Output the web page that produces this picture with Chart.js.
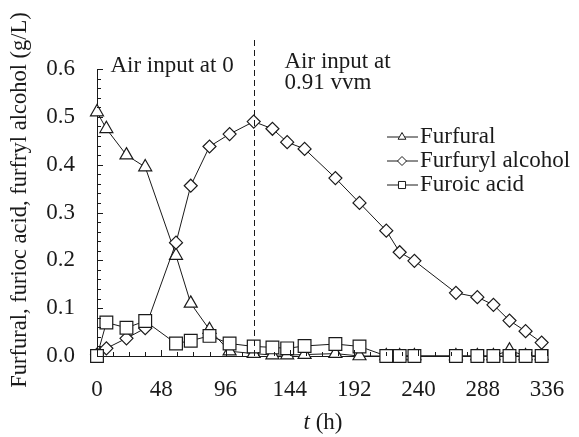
<!DOCTYPE html>
<html lang="en">
<head>
<meta charset="UTF-8" />
<title>Furfural, furfuryl alcohol and furoic acid</title>
<script src="https://cdn.jsdelivr.net/npm/chart.js"></script>
<style>
  body { margin: 0; background: #fff; }
  #wrap { width: 579px; height: 437px; }
</style>
</head>
<body>
<div id="wrap"><canvas id="furChart"></canvas></div>
<script>
// sampling times (h)
const hours = [0, 7, 22, 36, 59, 70, 84, 99, 117, 131, 142, 155, 178, 196, 216, 226, 237, 268, 284, 296, 308, 320, 332];
// concentrations (g/L)
const furfural = [0.51, 0.475, 0.42, 0.395, 0.21, 0.11, 0.055, 0.01, 0.005, 0.002, 0.002, 0.003, 0.005, 0, 0, 0, 0, 0, 0, 0, 0.012, 0, 0];
const furfurylAlcohol = [0.003, 0.016, 0.037, 0.058, 0.237, 0.356, 0.438, 0.464, 0.49, 0.475, 0.447, 0.433, 0.372, 0.32, 0.262, 0.217, 0.199, 0.132, 0.123, 0.107, 0.074, 0.052, 0.028];
const furoicAcid = [0, 0.07, 0.059, 0.073, 0.026, 0.032, 0.042, 0.026, 0.02, 0.018, 0.016, 0.021, 0.025, 0.02, 0, 0, 0, 0, 0, 0, 0, 0, 0];

const seriesNames = ["Furfural", "Furfuryl alcohol", "Furoic acid"];
const seriesShapes = ["triangle", "rectRot", "rect"];
const airSwitchHour = 117;

const FONT = "Liberation Serif";
const INK = "#1a1a1a";

function toPoints(vals) {
  return hours.map((h, i) => ({ x: h, y: vals[i] }));
}

function marker(ctx, shape, x, y, r) {
  ctx.beginPath();
  if (shape === "triangle") {
    ctx.moveTo(x, y - r);
    ctx.lineTo(x + r * 0.866, y + r * 0.5);
    ctx.lineTo(x - r * 0.866, y + r * 0.5);
    ctx.closePath();
  } else if (shape === "rectRot") {
    ctx.moveTo(x, y - r);
    ctx.lineTo(x + r, y);
    ctx.lineTo(x, y + r);
    ctx.lineTo(x - r, y);
    ctx.closePath();
  } else {
    ctx.rect(x - r * 0.707, y - r * 0.707, r * 1.414, r * 1.414);
  }
  ctx.fill();
  ctx.stroke();
}

// inward ticks, dashed switch line, notes, legend and axis titles
const decorations = {
  id: "decorations",
  afterDraw(chart) {
    const { ctx, chartArea, scales: { x, y } } = chart;
    ctx.save();
    ctx.strokeStyle = INK;
    ctx.lineWidth = 1;

    ctx.beginPath();
    for (let v = 0; v <= 336; v += 12) {
      const px = Math.round(x.getPixelForValue(v)) + 0.5;
      const len = v % 48 === 0 ? 6 : 4;
      ctx.moveTo(px, chartArea.bottom);
      ctx.lineTo(px, chartArea.bottom - len);
    }
    for (let i = 0; i <= 30; i++) {
      const py = Math.round(y.getPixelForValue(i * 0.02)) + 0.5;
      const len = i % 5 === 0 ? 6 : 4;
      ctx.moveTo(chartArea.left, py);
      ctx.lineTo(chartArea.left + len, py);
    }
    ctx.stroke();

    // air switch
    const sx = Math.round(x.getPixelForValue(airSwitchHour)) + 0.5;
    ctx.setLineDash([6, 4]);
    ctx.beginPath();
    ctx.moveTo(sx, 40);
    ctx.lineTo(sx, chartArea.bottom);
    ctx.stroke();
    ctx.setLineDash([]);

    const f = "23px '" + FONT + "'";
    ctx.fillStyle = INK;
    ctx.font = f;
    ctx.textBaseline = "middle";
    ctx.textAlign = "left";
    ctx.fillText("Air input at 0", x.getPixelForValue(10), y.getPixelForValue(0.607));
    ctx.fillText("Air input at", x.getPixelForValue(140), y.getPixelForValue(0.615));
    ctx.fillText("0.91 vvm", x.getPixelForValue(140), y.getPixelForValue(0.571));

    // legend
    const lx = 387;
    seriesNames.forEach((name, i) => {
      const ly = 137 + i * 24;
      ctx.beginPath();
      ctx.moveTo(lx, ly);
      ctx.lineTo(lx + 31, ly);
      ctx.stroke();
      ctx.fillStyle = "#fff";
      marker(ctx, seriesShapes[i], lx + 15, ly, i === 2 ? 5 : 4.5);
      ctx.fillStyle = INK;
      ctx.fillText(name, lx + 33, ly);
    });

    // x title: italic t
    ctx.font = "italic " + f;
    const tw = ctx.measureText("t").width;
    ctx.font = f;
    const rest = " (h)";
    const rw = ctx.measureText(rest).width;
    const tx = 323 - (tw + rw) / 2;
    ctx.font = "italic " + f;
    ctx.fillText("t", tx, 423);
    ctx.font = f;
    ctx.fillText(rest, tx + tw, 423);

    // y title
    ctx.translate(20, 200);
    ctx.rotate(-Math.PI / 2);
    ctx.textAlign = "center";
    ctx.font = "22.5px '" + FONT + "'";
    ctx.fillText("Furfural, furioc acid, furfryl alcohol (g/L)", 0, 0);
    ctx.restore();
  }
};

function dataset(i, vals, order, radius) {
  return {
    label: seriesNames[i],
    data: toPoints(vals),
    order: order,
    borderColor: INK,
    borderWidth: 1,
    pointStyle: seriesShapes[i],
    pointRadius: radius,
    pointBorderWidth: 1.2,
    pointBorderColor: INK,
    pointBackgroundColor: "#fff",
    tension: 0,
    clip: false
  };
}

new Chart(document.getElementById("furChart"), {
  type: "line",
  data: {
    datasets: [
      dataset(0, furfural, 3, 7.5),
      dataset(1, furfurylAlcohol, 2, 6.5),
      dataset(2, furoicAcid, 1, 9)
    ]
  },
  options: {
    responsive: true,
    maintainAspectRatio: false,
    animation: false,
    layout: { padding: { left: 0, top: 69, right: 32, bottom: 0 } },
    plugins: { legend: { display: false }, tooltip: { enabled: false } },
    scales: {
      x: {
        type: "linear",
        min: 0,
        max: 336,
        grid: { display: false, drawTicks: false },
        border: { display: true, color: INK, width: 1 },
        ticks: {
          stepSize: 48,
          padding: 20,
          color: INK,
          font: { family: FONT, size: 23 }
        },
        afterFit(scale) {
          scale.height = 81;
          scale.paddingLeft = 0;
          scale.paddingRight = 0;
        }
      },
      y: {
        min: 0,
        max: 0.6,
        grid: { display: false, drawTicks: false },
        border: { display: true, color: INK, width: 1 },
        ticks: {
          stepSize: 0.1,
          padding: 22,
          color: INK,
          font: { family: FONT, size: 23 },
          callback: (v) => v.toFixed(1)
        },
        afterFit(scale) {
          scale.width = 97;
          scale.paddingTop = 0;
          scale.paddingBottom = 0;
        }
      }
    }
  },
  plugins: [decorations]
});
</script>
</body>
</html>
